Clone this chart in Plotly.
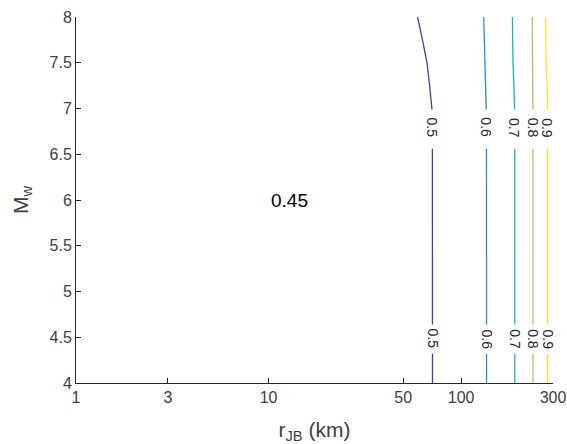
import numpy as np
import plotly.graph_objects as go

# ---- data ----
mw = [4.0, 6.5, 7.0, 7.25, 7.5, 7.75, 8.0]
levels = [0.5, 0.6, 0.7, 0.8, 0.9]
level_labels = ["0.5", "0.6", "0.7", "0.8", "0.9"]
r_05 = [71, 71, 70.5, 68.6, 66.5, 63, 59.4]
r_06 = [135.5, 135.5, 135, 134, 133, 132, 131]
r_07 = [190, 190, 189.5, 188, 186, 185, 184.6]
r_08 = [236, 236, 236, 236, 235, 234.5, 234]
r_09 = [281, 281, 281, 280, 276, 275, 275]
region_label = "0.45"
region_r = 10
region_mw = 6
x_tickvals = [1, 3, 10, 50, 100, 300]
x_ticktext = ["1", "3", "10", "50", "100", "300"]
y_tickvals = [4, 4.5, 5, 5.5, 6, 6.5, 7, 7.5, 8]
y_ticktext = ["4", "4.5", "5", "5.5", "6", "6.5", "7", "7.5", "8"]

series = [r_05, r_06, r_07, r_08, r_09]
colors = ["#4a3f9e", "#2b8ed4", "#22b3aa", "#c9b46c", "#f2ee12"]
label_mw = [6.79, 4.48]
gaps = [(6.56, 6.99), (4.32, 4.64)]
FONT = "Liberation Sans, Arial"

fig = go.Figure()

for r, col in zip(series, colors):
    mw_arr = np.array(mw, dtype=float)
    r_arr = np.array(r, dtype=float)
    pts = sorted(set(list(mw_arr) + [g for gp in gaps for g in gp]))
    xs, ys = [], []
    for m in pts:
        if any(lo < m < hi for lo, hi in gaps):
            continue
        xs.append(float(np.interp(m, mw_arr, r_arr)))
        ys.append(m)
        if any(abs(m - lo) < 1e-9 for lo, hi in gaps):
            xs.append(None)
            ys.append(None)
    fig.add_trace(go.Scatter(x=xs, y=ys, mode="lines",
                             line=dict(color=col, width=1.3),
                             showlegend=False, hoverinfo="skip"))

annotations = []
for r, lab in zip(series, level_labels):
    for m in label_mw:
        rx = float(np.interp(m, mw, r))
        annotations.append(dict(x=np.log10(rx), y=m, xref="x", yref="y",
                                text=lab, showarrow=False, textangle=90,
                                font=dict(size=14, color="#262626", family=FONT)))
annotations.append(dict(x=np.log10(region_r), y=region_mw, xref="x", yref="y",
                        text=region_label, showarrow=False, xanchor="left",
                        yanchor="middle",
                        font=dict(size=19, color="#000000", family=FONT)))

axis_common = dict(showline=True, linecolor="#262626", linewidth=1,
                   ticks="inside", ticklen=5, tickcolor="#262626",
                   showgrid=False, zeroline=False, mirror=False,
                   automargin=False,
                   tickfont=dict(size=16, color="#404040", family=FONT))

fig.update_layout(
    width=567, height=444,
    margin=dict(l=76, r=14, t=17, b=61),
    paper_bgcolor="white", plot_bgcolor="white",
    xaxis=dict(type="log", range=[0, np.log10(300)],
               tickvals=x_tickvals, ticktext=x_ticktext,
               title=dict(text="r<sub>JB</sub> (km)", standoff=17,
                          font=dict(size=21, color="#404040", family=FONT)),
               **axis_common),
    yaxis=dict(range=[4, 8], tickvals=y_tickvals, ticktext=y_ticktext,
               title=dict(text="M<sub>w</sub>", standoff=15,
                          font=dict(size=21, color="#404040", family=FONT)),
               **axis_common),
    annotations=annotations,
)

fig.write_html("out.html")
